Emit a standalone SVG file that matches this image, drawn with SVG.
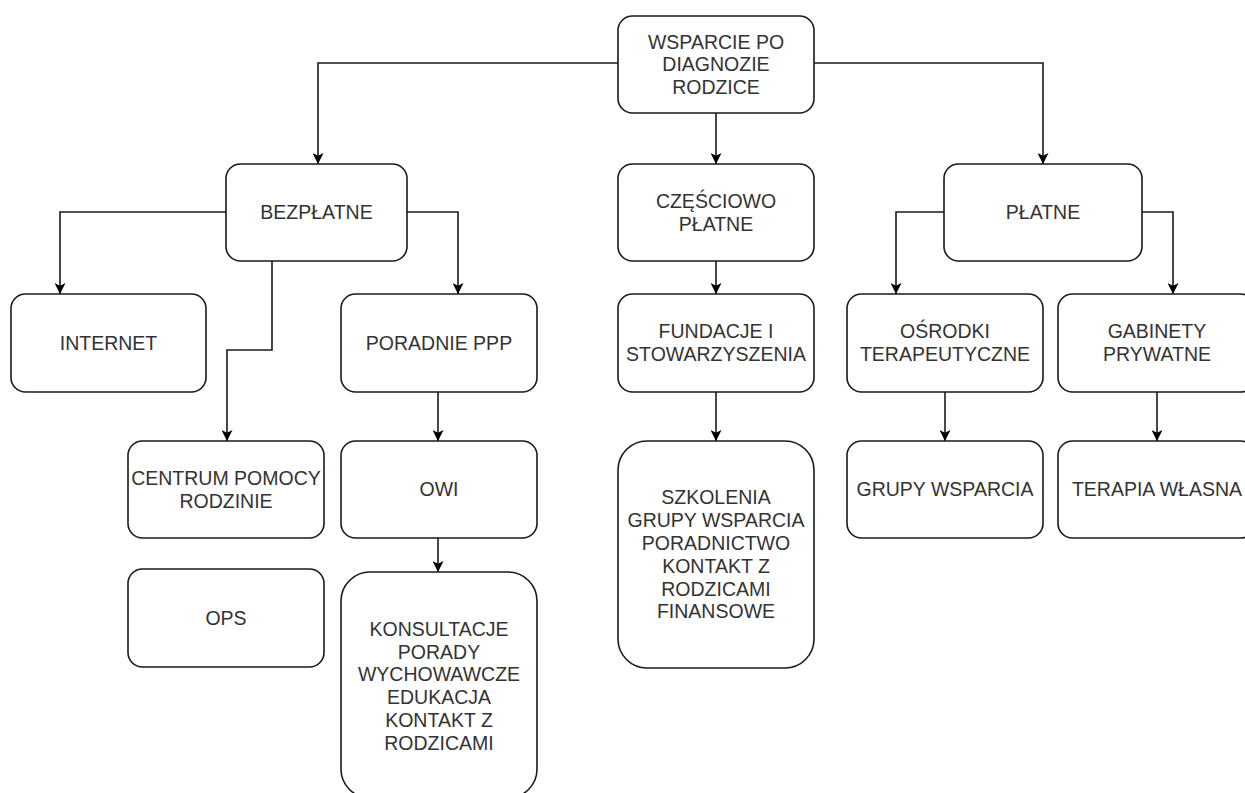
<svg xmlns="http://www.w3.org/2000/svg" width="1245" height="793" viewBox="0 0 1245 793">
<style>
.box{fill:#ffffff;stroke:#1a1a1a;stroke-width:1.6}
.t{font-family:"Liberation Sans",Arial,sans-serif;font-size:19.5px;fill:#333333;text-anchor:middle}
.c{fill:none;stroke:#1a1a1a;stroke-width:1.6;marker-end:url(#arr)}
</style>
<defs>
<marker id="arr" viewBox="0 0 10 10" refX="10" refY="5" markerWidth="11" markerHeight="11" orient="auto" markerUnits="userSpaceOnUse">
<path d="M0,0 L10,5 L0,10 L2.5,5 z" fill="#000000"/>
</marker>
</defs>
<rect width="1245" height="793" fill="#ffffff"/>
<g id="connectors">
<path class="c" d="M618,63 H318 V164"/>
<path class="c" d="M716,113 V164"/>
<path class="c" d="M814,63 H1043 V164"/>
<path class="c" d="M226,212 H60 V294"/>
<path class="c" d="M407,212 H458 V294"/>
<path class="c" d="M272,261 V350 H227 V441"/>
<path class="c" d="M438,392 V441"/>
<path class="c" d="M438,538 V572"/>
<path class="c" d="M716,261 V294"/>
<path class="c" d="M716,392 V441"/>
<path class="c" d="M944,212 H896 V294"/>
<path class="c" d="M1142,212 H1173 V294"/>
<path class="c" d="M945,392 V441"/>
<path class="c" d="M1157,392 V441"/>
</g>
<g id="top">
<rect class="box" x="618" y="16" width="196" height="97" rx="14.5"/>
<text class="t" x="716" y="48.5">WSPARCIE PO</text>
<text class="t" x="716" y="71.3">DIAGNOZIE</text>
<text class="t" x="716" y="94.1">RODZICE</text>
</g>
<g id="bezplatne">
<rect class="box" x="226" y="164" width="181" height="97" rx="14.5"/>
<text class="t" x="316.5" y="219.3">BEZPŁATNE</text>
</g>
<g id="czesciowo">
<rect class="box" x="618" y="164" width="196" height="97" rx="14.5"/>
<text class="t" x="716" y="207.9">CZĘŚCIOWO</text>
<text class="t" x="716" y="230.7">PŁATNE</text>
</g>
<g id="platne">
<rect class="box" x="944" y="164" width="198" height="97" rx="14.5"/>
<text class="t" x="1043" y="219.3">PŁATNE</text>
</g>
<g id="internet">
<rect class="box" x="11" y="294" width="195" height="98" rx="14.5"/>
<text class="t" x="108.5" y="349.8">INTERNET</text>
</g>
<g id="poradnie">
<rect class="box" x="341" y="294" width="196" height="98" rx="14.5"/>
<text class="t" x="439" y="349.8">PORADNIE PPP</text>
</g>
<g id="fundacje">
<rect class="box" x="618" y="294" width="196" height="98" rx="14.5"/>
<text class="t" x="716" y="338.4">FUNDACJE I</text>
<text class="t" x="716" y="361.2">STOWARZYSZENIA</text>
</g>
<g id="osrodki">
<rect class="box" x="847" y="294" width="196" height="98" rx="14.5"/>
<text class="t" x="945" y="338.4">OŚRODKI</text>
<text class="t" x="945" y="361.2">TERAPEUTYCZNE</text>
</g>
<g id="gabinety">
<rect class="box" x="1058" y="294" width="197" height="98" rx="14.5"/>
<text class="t" x="1157" y="338.4">GABINETY</text>
<text class="t" x="1157" y="361.2">PRYWATNE</text>
</g>
<g id="centrum">
<rect class="box" x="128" y="441" width="196" height="97" rx="14.5"/>
<text class="t" x="226" y="484.9">CENTRUM POMOCY</text>
<text class="t" x="226" y="507.7">RODZINIE</text>
</g>
<g id="owi">
<rect class="box" x="341" y="441" width="196" height="97" rx="14.5"/>
<text class="t" x="439" y="496.3">OWI</text>
</g>
<g id="grupy">
<rect class="box" x="847" y="441" width="196" height="97" rx="14.5"/>
<text class="t" x="945" y="496.3">GRUPY WSPARCIA</text>
</g>
<g id="terapia">
<rect class="box" x="1058" y="441" width="197" height="97" rx="14.5"/>
<text class="t" x="1157" y="496.3">TERAPIA WŁASNA</text>
</g>
<g id="ops">
<rect class="box" x="128" y="569" width="196" height="98" rx="14.5"/>
<text class="t" x="226" y="624.8">OPS</text>
</g>
<g id="konsultacje">
<rect class="box" x="341" y="572" width="196" height="226" rx="29"/>
<text class="t" x="439" y="635.8">KONSULTACJE</text>
<text class="t" x="439" y="658.6">PORADY</text>
<text class="t" x="439" y="681.4">WYCHOWAWCZE</text>
<text class="t" x="439" y="704.2">EDUKACJA</text>
<text class="t" x="439" y="727">KONTAKT Z</text>
<text class="t" x="439" y="749.8">RODZICAMI</text>
</g>
<g id="szkolenia">
<rect class="box" x="618" y="441" width="196" height="227" rx="29"/>
<text class="t" x="716" y="504.3">SZKOLENIA</text>
<text class="t" x="716" y="527.1">GRUPY WSPARCIA</text>
<text class="t" x="716" y="549.9">PORADNICTWO</text>
<text class="t" x="716" y="572.7">KONTAKT Z</text>
<text class="t" x="716" y="595.5">RODZICAMI</text>
<text class="t" x="716" y="618.3">FINANSOWE</text>
</g>
</svg>
